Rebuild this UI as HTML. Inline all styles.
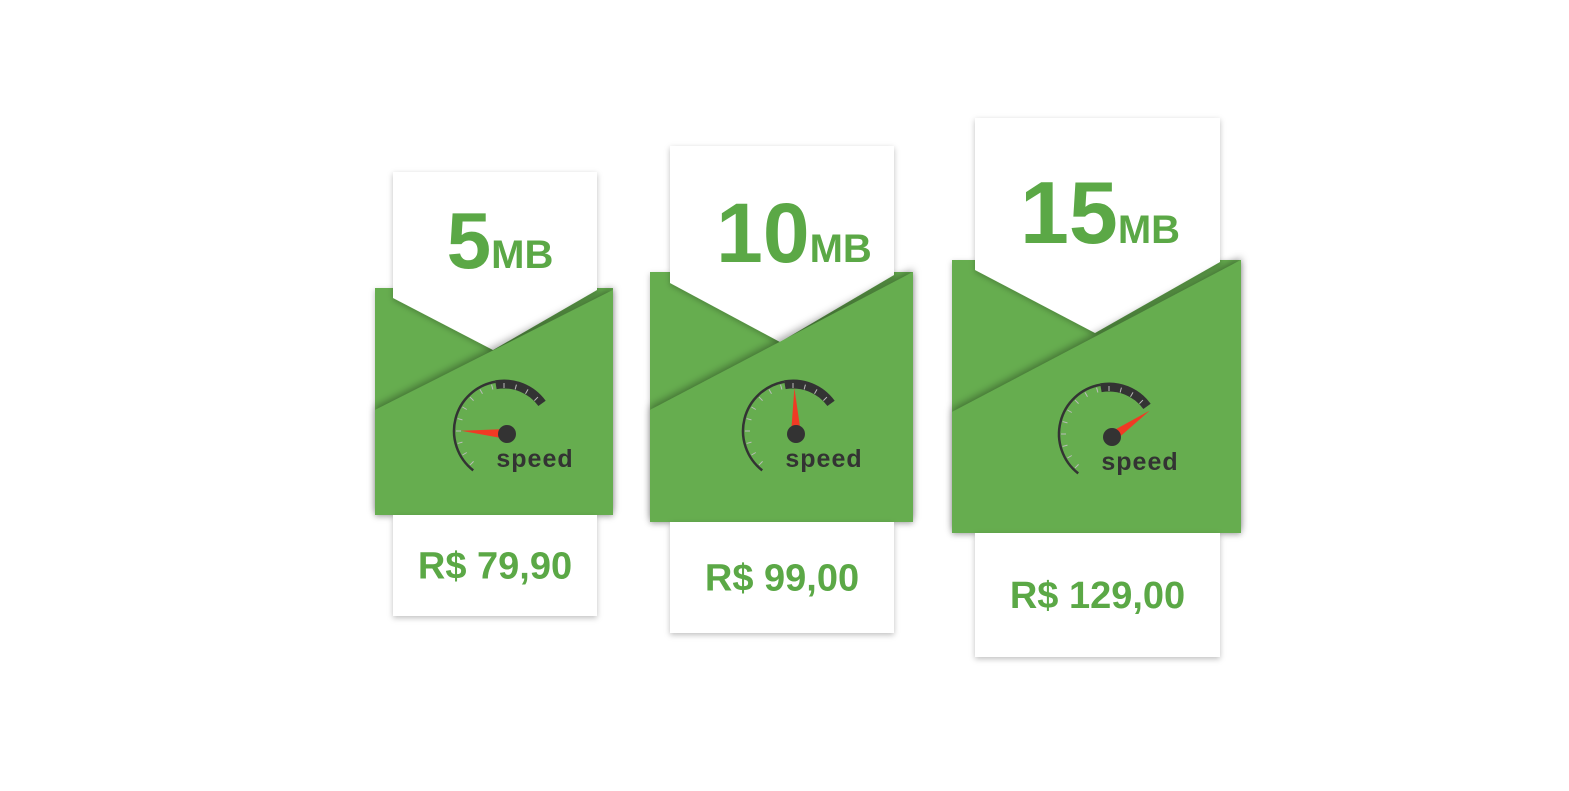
<!DOCTYPE html>
<html><head><meta charset="utf-8"><style>
body{margin:0;background:#fff;width:1569px;height:786px;overflow:hidden}
text{font-family:"Liberation Sans",Arial,sans-serif;font-weight:bold}
</style></head><body>
<svg width="1569" height="786" viewBox="0 0 1569 786">
<defs>
<filter id="sh" x="-20%" y="-20%" width="140%" height="140%"><feDropShadow dx="0" dy="2" stdDeviation="3" flood-color="#000" flood-opacity="0.25"/></filter>
<filter id="sh2" x="-20%" y="-20%" width="140%" height="160%"><feDropShadow dx="0" dy="-3" stdDeviation="4" flood-color="#000" flood-opacity="0.35"/></filter>
</defs>
<g id="cards"></g>
</svg>
<script>
const plans=[
 {L:375,R:613,T:288,B:515,cl:393,cr:597,ct:172,vL:298,vx:493,vy:350,vR:290,dL:410,dR:290,pb:616,gx:507,gy:434,ang:176,n:"5",p:"R$ 79,90",hb:268,hx:500,fs:80},
 {L:650,R:913,T:272,B:522,cl:670,cr:894,ct:146,vL:283,vx:780,vy:342,vR:275,dL:410,dR:272,pb:633,gx:796,gy:434,ang:92,n:"10",p:"R$ 99,00",hb:262,hx:794,fs:84},
 {L:952,R:1241,T:260,B:533,cl:975,cr:1220,ct:118,vL:270,vx:1095,vy:333,vR:262,dL:412,dR:260,pb:657,gx:1112,gy:437,ang:35,n:"15",p:"R$ 129,00",hb:243,hx:1100,fs:88}
];
const G='#66ad50',T='#5ba846',ns='http://www.w3.org/2000/svg';
function mk(t,a,p){const e=document.createElementNS(ns,t);for(const k in a)e.setAttribute(k,a[k]);p.appendChild(e);return e;}
function pt(cx,cy,r,d){const a=d*Math.PI/180;return [cx+r*Math.cos(a),cy-r*Math.sin(a)];}
const root=document.getElementById('cards');
plans.forEach((c,i)=>{
 const g=mk('g',{},root);
 
 
 const back=mk('rect',{x:c.L,y:c.T,width:c.R-c.L,height:c.B-c.T,fill:G,filter:'url(#sh)'},g);
 
 const top=mk('polygon',{points:`${c.cl},${c.ct} ${c.cr},${c.ct} ${c.cr},${c.vR} ${c.vx},${c.vy} ${c.cl},${c.vL}`,fill:'#fff',filter:'url(#sh)'},g);
 
 const fr=mk('polygon',{points:`${c.L},${c.dL} ${c.R},${c.dR} ${c.R},${c.B} ${c.L},${c.B}`,fill:G,filter:'url(#sh2)'},g);
 
 const mx=(c.cl+c.cr)/2;
 const tx=mk('text',{x:c.hx,y:c.hb,'text-anchor':'middle',fill:T},g);
 
 tx.innerHTML=`<tspan font-size="${c.fs}">${c.n}</tspan><tspan font-size="40">MB</tspan>`;
 const gg=mk('g',{},g);
 const r=50,cx=c.gx-3,cy=c.gy-3;
 let a=pt(cx,cy,r,100),b=pt(cx,cy,r,232);
 mk('path',{d:`M${a[0]},${a[1]} A${r},${r} 0 0 0 ${b[0]},${b[1]}`,stroke:'#333',fill:'none','stroke-width':2.5},gg);
 a=pt(cx,cy,r-3,100);b=pt(cx,cy,r-3,36);
 mk('path',{d:`M${a[0]},${a[1]} A${r-3},${r-3} 0 0 1 ${b[0]},${b[1]}`,stroke:'#333',fill:'none','stroke-width':9},gg);
 for(let d=45;d<=230;d+=15){const p1=pt(cx,cy,r-2,d),p2=pt(cx,cy,r-7,d);mk('line',{x1:p1[0],y1:p1[1],x2:p2[0],y2:p2[1],stroke:'#bbb','stroke-width':1},gg);}
 const tip=pt(c.gx,c.gy,46,c.ang),s1=pt(c.gx,c.gy,5,c.ang+90),s2=pt(c.gx,c.gy,5,c.ang-90);
 mk('polygon',{points:`${tip[0]},${tip[1]} ${s1[0]},${s1[1]} ${s2[0]},${s2[1]}`,fill:'#f03a24'},gg);
 mk('circle',{cx:c.gx,cy:c.gy,r:9,fill:'#333'},gg);
 const st=mk('text',{x:c.gx+28,y:c.gy+33,'text-anchor':'middle','font-size':25,fill:'#333','letter-spacing':1},gg);st.textContent='speed';
 const pc=mk('rect',{x:c.cl,y:c.B,width:c.cr-c.cl,height:c.pb-c.B,fill:'#fff',filter:'url(#sh)'},g);
 
 const pt2=mk('text',{x:mx,y:(c.B+c.pb)/2+13,'text-anchor':'middle','font-size':38,fill:T},g);
 
 pt2.textContent=c.p;
});
</script>
</body></html>
